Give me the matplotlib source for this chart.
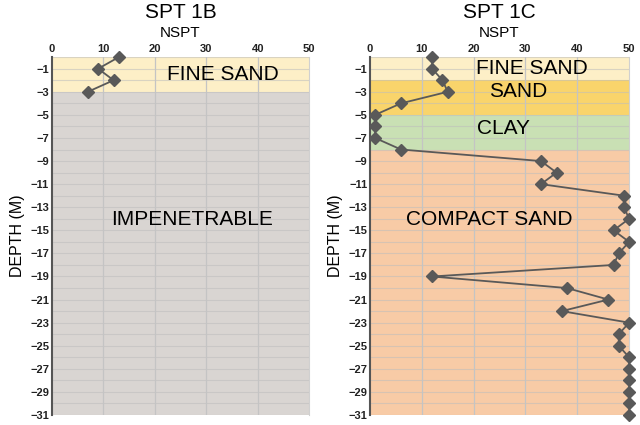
"""
SPT 1B / SPT 1C 관입시험 깊이별 NSPT 그래프
"""

import matplotlib.pyplot as plt

plt.rcParams['font.family'] = ['Liberation Sans', 'DejaVu Sans']

# SPT 1B
depth_1b = [0, -1, -2, -3]
nspt_1b = [13, 9, 12, 7]
layers_1b = [('FINE SAND', 0, -3, '#FDEFC7'),
             ('IMPENETRABLE', -3, -31, '#D9D5D2')]
labels_1b = [('FINE SAND', 33.2, -1.5), ('IMPENETRABLE', 27.2, -14.1)]

# SPT 1C
depth_1c = [0, -1, -2, -3, -4, -5, -6, -7, -8, -9, -10, -11, -12, -13, -14, -15,
            -16, -17, -18, -19, -20, -21, -22, -23, -24, -25, -26, -27, -28,
            -29, -30, -31]
nspt_1c = [12, 12, 14, 15, 6, 1, 1, 1, 6, 33, 36, 33, 49, 49, 50, 47,
           50, 48, 47, 12, 38, 46, 37, 50, 48, 48, 50, 50, 50,
           50, 50, 50]
layers_1c = [('FINE SAND', 0, -2, '#FDEFC7'),
             ('SAND', -2, -5, '#F9D46B'),
             ('CLAY', -5, -8, '#C9E0B4'),
             ('COMPACT SAND', -8, -31, '#F8CBA6')]
labels_1c = [('FINE SAND', 31.2, -1.0), ('SAND', 28.6, -3.0),
             ('CLAY', 25.8, -6.2), ('COMPACT SAND', 23.0, -14.1)]

x_ticks = [0, 10, 20, 30, 40, 50]
y_ticks = list(range(-1, -32, -2))


def draw_spt(ax, title, depth, nspt, layers, labels):
    # 지층 배경
    for name, top, bottom, color in layers:
        ax.axhspan(bottom, top, color=color, zorder=0, lw=0)

    # 격자
    for d in range(0, -32, -1):
        ax.axhline(d, color='#bdbdbd', lw=0.8, alpha=0.55, zorder=1)
    for x in [10, 20, 30, 40]:
        ax.axvline(x, color='#c4c4c4', lw=0.9, zorder=1)

    ax.plot(nspt, depth, color='#595959', lw=1.3, marker='D', ms=6.5,
            mfc='#595959', mec='#595959', zorder=3, clip_on=False)

    for text, x, y in labels:
        ax.text(x, y, text, ha='center', va='center', fontsize=15, zorder=4)

    ax.set_xlim(0, 50)
    ax.set_ylim(-31, 0)
    ax.xaxis.tick_top()
    ax.set_xticks(x_ticks)
    ax.set_yticks(y_ticks)
    ax.tick_params(length=0, labelsize=8, pad=2, colors='#222222')
    for lab in ax.get_xticklabels() + ax.get_yticklabels():
        lab.set_fontweight('bold')

    for side in ['top', 'bottom']:
        ax.spines[side].set_visible(False)
    ax.spines['right'].set_color('#d0d0d0')
    ax.spines['left'].set_color('#555555')
    ax.spines['left'].set_linewidth(1.5)

    ax.set_ylabel('DEPTH (M)', fontsize=11.5, labelpad=4)
    ax.text(0.5, 1.067, 'NSPT', transform=ax.transAxes, ha='center',
            va='center', fontsize=11)
    ax.text(0.5, 1.126, title, transform=ax.transAxes, ha='center',
            va='center', fontsize=15)


fig = plt.figure(figsize=(6.4, 4.25), dpi=100)
ax1 = fig.add_axes([0.081, 0.0235, 0.402, 0.842])
ax2 = fig.add_axes([0.578, 0.0235, 0.405, 0.842])

draw_spt(ax1, 'SPT 1B', depth_1b, nspt_1b, layers_1b, labels_1b)
draw_spt(ax2, 'SPT 1C', depth_1c, nspt_1c, layers_1c, labels_1c)

fig.savefig('out.png', dpi=100)
